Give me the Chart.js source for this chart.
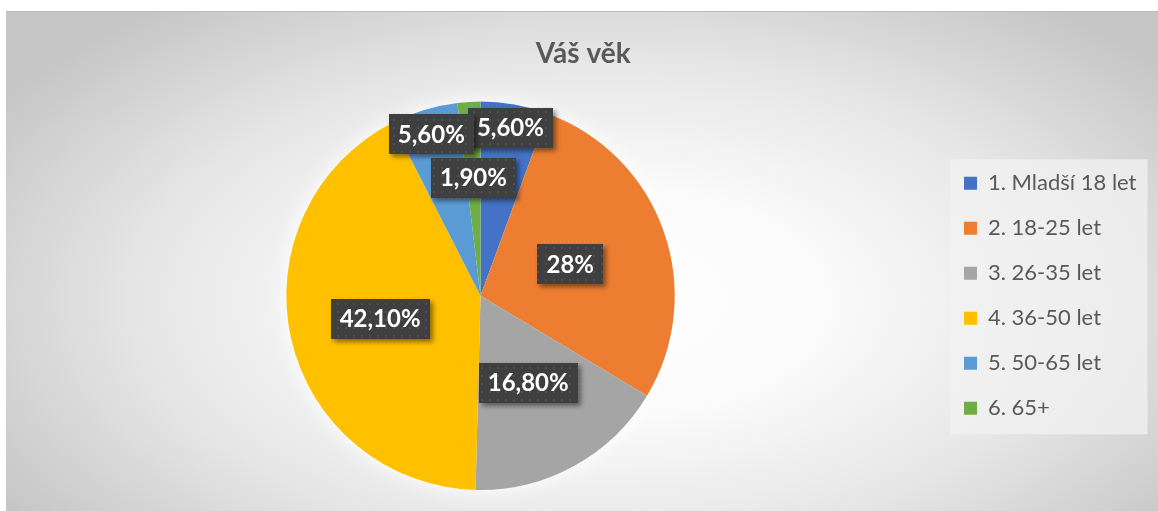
<!DOCTYPE html>
<html>
<head>
<meta charset="utf-8">
<script src="https://cdn.jsdelivr.net/npm/chart.js@4.4.1/dist/chart.umd.min.js"></script>
<style>
    body { margin: 0; background: #ffffff; }
    #frame {
        position: absolute;
        left: 6px;
        top: 11px;
        width: 1152px;
        height: 500px;
        border-top: 1px solid #bcbcbc;
        box-sizing: border-box;
        background: radial-gradient(ellipse 62% 75% at 52% 58%, #ffffff 0%, #fbfbfb 30%, #e6e6e6 65%, #c6c6c6 100%);
    }
</style>
</head>
<body>
<div id="frame"><canvas id="ageChart"></canvas></div>
<script>
    // Chart data
    const categories = ['1. Mladší 18 let', '2. 18-25 let', '3. 26-35 let', '4. 36-50 let', '5. 50-65 let', '6. 65+'];
    const shares = [5.6, 28, 16.8, 42.1, 5.6, 1.9];
    const valueLabels = ['5,60%', '28%', '16,80%', '42,10%', '5,60%', '1,90%'];
    const sliceColors = ['#4472C4', '#ED7D31', '#A5A5A5', '#FFC000', '#5B9BD5', '#70AD47'];

    // How far out (share of radius) each data label sits
    const labelDistance = [0.88, 0.49, 0.51, 0.53, 0.87, 0.61];

    const legendFont = 22;
    const legendPad = 23;

    // Measure the longest legend text so the pie stays where it should
    const measureCtx = document.createElement('canvas').getContext('2d');
    measureCtx.font = legendFont + 'px Lato';
    let maxText = 0;
    categories.forEach(c => { maxText = Math.max(maxText, measureCtx.measureText(c).width); });
    const legendLeft = 935;
    const legendWidth = legendPad + 13 + legendFont / 2 + maxText + 10;
    const padRight = 1152 - (legendLeft + legendWidth);
    const padLeft = 2 * 474.5 - legendLeft;

    // Dark dotted fill for the label boxes
    const tile = document.createElement('canvas');
    tile.width = 8;
    tile.height = 8;
    const tctx = tile.getContext('2d');
    tctx.fillStyle = '#3f3f3f';
    tctx.fillRect(0, 0, 8, 8);
    tctx.fillStyle = '#4f4f4f';
    tctx.fillRect(3, 3, 2, 2);

    // Soft white glow under the pie
    const glowPlugin = {
        id: 'pieGlow',
        beforeDatasetsDraw(chart) {
            const arc = chart.getDatasetMeta(0).data[0];
            if (!arc) return;
            const ctx = chart.ctx;
            ctx.save();
            ctx.shadowColor = 'rgba(255,255,255,1)';
            ctx.shadowBlur = 22;
            ctx.fillStyle = '#ffffff';
            ctx.beginPath();
            ctx.arc(arc.x, arc.y, arc.outerRadius, 0, Math.PI * 2);
            ctx.fill();
            ctx.restore();
        }
    };

    // Legend background panel
    const legendPanel = {
        id: 'legendPanel',
        beforeDraw(chart) {
            const boxes = chart.legend.legendHitBoxes;
            if (!boxes || !boxes.length) return;
            const first = boxes[0];
            const last = boxes[boxes.length - 1];
            let right = 0;
            boxes.forEach(b => { right = Math.max(right, b.left + b.width); });
            const ctx = chart.ctx;
            ctx.save();
            ctx.fillStyle = 'rgba(242,242,242,0.75)';
            ctx.fillRect(first.left - 14, first.top - 13, right - first.left + 25, last.top + last.height - first.top + 28);
            ctx.restore();
        }
    };

    // Data labels in dark boxes
    const labelPlugin = {
        id: 'boxLabels',
        afterDatasetsDraw(chart) {
            const ctx = chart.ctx;
            const arcs = chart.getDatasetMeta(0).data;
            const pattern = ctx.createPattern(tile, 'repeat');
            ctx.save();
            ctx.font = 'bold 24px Lato';
            ctx.textAlign = 'center';
            ctx.textBaseline = 'middle';
            arcs.forEach((arc, i) => {
                const mid = (arc.startAngle + arc.endAngle) / 2;
                const r = arc.outerRadius * labelDistance[i];
                const x = arc.x + Math.cos(mid) * r;
                const y = arc.y + Math.sin(mid) * r;
                const text = valueLabels[i];
                const w = ctx.measureText(text).width + 18;
                const h = 40;
                ctx.shadowColor = 'rgba(0,0,0,0.45)';
                ctx.shadowBlur = 5;
                ctx.shadowOffsetX = 3;
                ctx.shadowOffsetY = 3;
                ctx.fillStyle = pattern;
                ctx.fillRect(Math.round(x - w / 2), Math.round(y - h / 2), Math.round(w), h);
                ctx.shadowColor = 'transparent';
                ctx.fillStyle = '#ffffff';
                ctx.fillText(text, x, y + 1);
            });
            ctx.restore();
        }
    };

    const ctx = document.getElementById('ageChart').getContext('2d');
    const ageChart = new Chart(ctx, {
        type: 'pie',
        data: {
            labels: categories,
            datasets: [{
                data: shares,
                backgroundColor: sliceColors,
                borderWidth: 0,
                hoverOffset: 0
            }]
        },
        options: {
            responsive: true,
            maintainAspectRatio: false,
            animation: false,
            events: [],
            layout: {
                padding: { top: 0, bottom: 21, left: padLeft, right: padRight }
            },
            plugins: {
                title: {
                    display: true,
                    text: 'Váš věk',
                    color: '#595959',
                    font: { family: 'Lato', size: 28, weight: 'bold' },
                    padding: { top: 25, bottom: 31 }
                },
                legend: {
                    position: 'right',
                    fullSize: false,
                    labels: {
                        color: '#595959',
                        font: { family: 'Lato', size: legendFont },
                        boxWidth: 13,
                        boxHeight: 13,
                        padding: legendPad
                    }
                },
                tooltip: { enabled: false }
            }
        },
        plugins: [glowPlugin, legendPanel, labelPlugin]
    });
</script>
</body>
</html>
